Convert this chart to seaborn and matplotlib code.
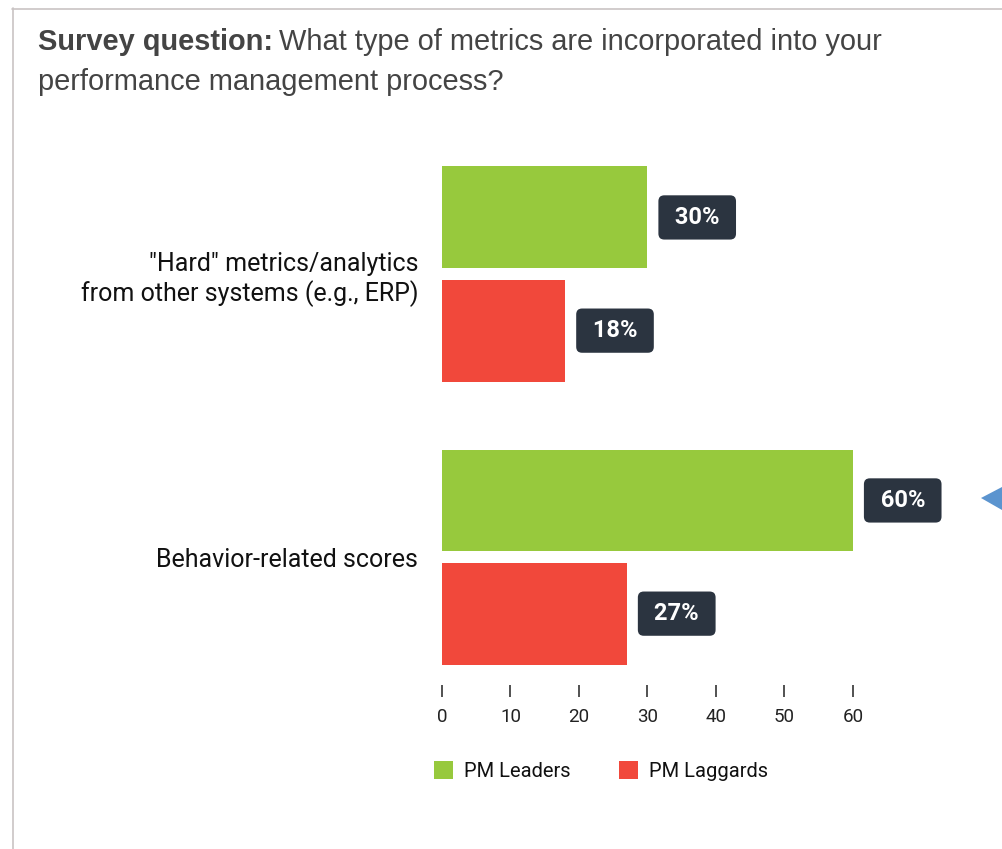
import pandas as pd
import matplotlib.pyplot as plt
import seaborn as sns
from matplotlib.lines import Line2D
from matplotlib.patches import Patch, Polygon

# Dati del grafico
categories = ['"Hard" metrics/analytics\nfrom other systems (e.g., ERP)', 'Behavior-related scores']
groups = ['PM Leaders', 'PM Laggards']
leaders = [30, 60]
laggards = [18, 27]
x_ticks = [0, 10, 20, 30, 40, 50, 60]

colors = ['#97c93d', '#f1483b']
label_bg = '#2b3440'

df = pd.DataFrame({
    'Metric': categories * 2,
    'Group': [groups[0]] * len(categories) + [groups[1]] * len(categories),
    'Value': leaders + laggards,
})

sns.set_style('white')
plt.rcParams['font.family'] = ['Roboto', 'DejaVu Sans']

fig = plt.figure(figsize=(10.02, 8.49), dpi=100)
ax = fig.add_axes([0.4411, 0.1932, 0.4102, 0.6537])

sns.barplot(data=df, y='Metric', x='Value', hue='Group', orient='h',
            palette=colors, saturation=1, width=0.8, gap=0.1,
            linewidth=0, legend=False, ax=ax)

ax.set_xlim(0, 60)
ax.set_ylim(1.452, -0.509)
ax.set_xticks(x_ticks)
ax.set_xlabel('')
ax.set_ylabel('')
sns.despine(ax=ax, left=True, bottom=True)
ax.tick_params(axis='x', bottom=True, length=8.6, width=1.1, color='#222222',
               pad=8, labelsize=13.5, labelcolor='#222222')
ax.tick_params(axis='y', length=0, pad=17, labelsize=18, labelcolor='#111111')

# Etichette dei valori
for cont, vals in zip(ax.containers, [leaders, laggards]):
    ax.bar_label(cont, labels=[f' {v}% ' for v in vals], padding=15.5,
                 color='white', fontsize=17, fontweight='bold',
                 bbox=dict(boxstyle='round,pad=0.45,rounding_size=0.25',
                           fc=label_bg, ec='none'))

# Legenda
handles = [Patch(facecolor=c, edgecolor='none') for c in colors]
fig.legend(handles, groups, loc='center', bbox_to_anchor=(0.600, 0.0919),
           ncol=2, frameon=False, fontsize=14.5, handlelength=0.95,
           handleheight=0.95, handletextpad=0.55, columnspacing=2.4,
           labelcolor='#111111')

# Titolo
title_color = '#444444'
t1 = fig.text(38 / 1002, 1 - 42 / 849, 'Survey question:', fontsize=20.9,
              fontweight='bold', color=title_color, family='Liberation Sans',
              va='center', ha='left')
fig.canvas.draw()
bb = t1.get_window_extent(fig.canvas.get_renderer())
fig.text((bb.x1 + 6) / 1002, 1 - 42 / 849,
         'What type of metrics are incorporated into your', fontsize=20.9,
         color=title_color, family='Liberation Sans', va='center', ha='left')
fig.text(38 / 1002, 1 - 82 / 849, 'performance management process?', fontsize=20.9,
         color=title_color, family='Liberation Sans', va='center', ha='left')

# Bordo della pagina e freccia
border = '#c9c4c4'
fig.add_artist(Line2D([12.5 / 1002, 12.5 / 1002], [0, 1 - 8 / 849],
                      color=border, lw=1.2))
fig.add_artist(Line2D([12 / 1002, 1], [1 - 8.5 / 849, 1 - 8.5 / 849],
                      color=border, lw=1.2))
fig.add_artist(Polygon([[981 / 1002, 1 - 498 / 849], [1, 1 - 487 / 849],
                        [1, 1 - 510 / 849]], closed=True,
                       transform=fig.transFigure, fc='#5b94cf', ec='none'))

fig.savefig('out.png', dpi=100)
